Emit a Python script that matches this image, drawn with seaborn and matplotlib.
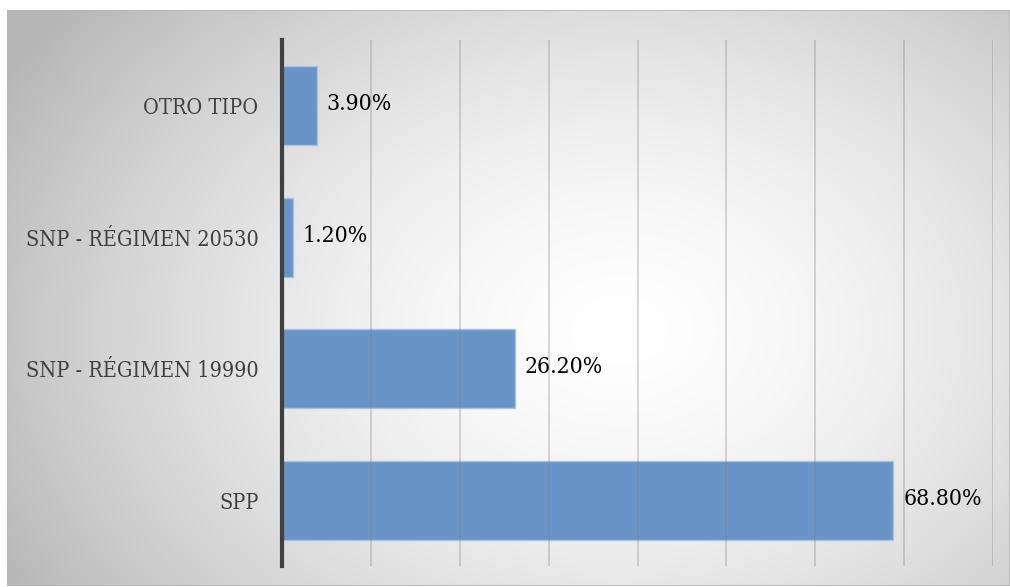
import numpy as np
import pandas as pd
import matplotlib
matplotlib.use("Agg")
import matplotlib.pyplot as plt
import seaborn as sns

# Afiliación por sistema de pensiones (%)
categorias = ["OTRO TIPO", "SNP - RÉGIMEN 20530", "SNP - RÉGIMEN 19990", "SPP"]
porcentajes = [3.9, 1.2, 26.2, 68.8]
etiquetas = ["3.90%", "1.20%", "26.20%", "68.80%"]

df = pd.DataFrame({"categoria": categorias, "porcentaje": porcentajes})

sns.set_theme(style="white")
plt.rcParams["font.family"] = ["DejaVu Serif"]
plt.rcParams["font.stretch"] = "condensed"

W, H = 1010, 587
fig = plt.figure(figsize=(W / 100, H / 100), dpi=100)
fig.patch.set_facecolor("white")

# Fondo del gráfico: degradado radial gris-blanco
bx0, by0, bx1, by1 = 7, 10, 1010, 586
bg = fig.add_axes([bx0 / W, 1 - by1 / H, (bx1 - bx0) / W, (by1 - by0) / H], zorder=0)
xs = np.linspace(bx0, bx1, 400)
ys = np.linspace(by0, by1, 240)
X, Y = np.meshgrid(xs, ys)
cx, cy = 620, 330
d = np.sqrt(((X - cx) / 640) ** 2 + ((Y - cy) / 470) ** 2)
val = 255 - 62 * np.clip(d, 0, 1.1) ** 1.6
img = np.dstack([val, val, val]) / 255.0
bg.imshow(img, aspect="auto", extent=[0, 1, 0, 1], interpolation="bilinear")
bg.set_axis_off()
bg.add_patch(plt.Rectangle((0, 0), 1, 1, transform=bg.transAxes, fill=False,
                           edgecolor="#b8b8b8", linewidth=1.2))

# Área de trazado
left, right, top, bottom = 282, 993, 40, 566
ax = fig.add_axes([left / W, 1 - bottom / H, (right - left) / W, (bottom - top) / H], zorder=1)
ax.patch.set_alpha(0)

sns.barplot(data=df, x="porcentaje", y="categoria", orient="h", ax=ax,
            color="#6894c8", saturation=1, width=0.6,
            edgecolor="#a9c2e2", linewidth=1.0, zorder=1)

ax.set_xlim(0, 80)
ax.set_ylim(3.5, -0.5)
ax.set_xticks(np.arange(0, 81, 10))
ax.set_xticklabels([])
ax.set_xlabel("")
ax.set_ylabel("")
ax.tick_params(axis="both", length=0)
ax.tick_params(axis="y", pad=17, labelsize=15.5, labelcolor="#404040")
for lab in ax.get_yticklabels():
    lab.set_fontstretch("condensed")

ax.set_axisbelow(False)
ax.xaxis.grid(True, color="#7f7f7f", alpha=0.35, linewidth=1.2, zorder=3)
ax.yaxis.grid(False)

for s in ["top", "right", "bottom"]:
    ax.spines[s].set_visible(False)
ax.spines["left"].set_color("#404040")
ax.spines["left"].set_linewidth(3)
ax.spines["left"].set_zorder(5)

for i, (v, t) in enumerate(zip(porcentajes, etiquetas)):
    ax.annotate(t, xy=(v, i), xytext=(7, 1), textcoords="offset points",
                ha="left", va="center", fontsize=16.5, fontstretch="condensed",
                color="#000000", zorder=6)

fig.savefig("out.png", dpi=100, facecolor="white")
